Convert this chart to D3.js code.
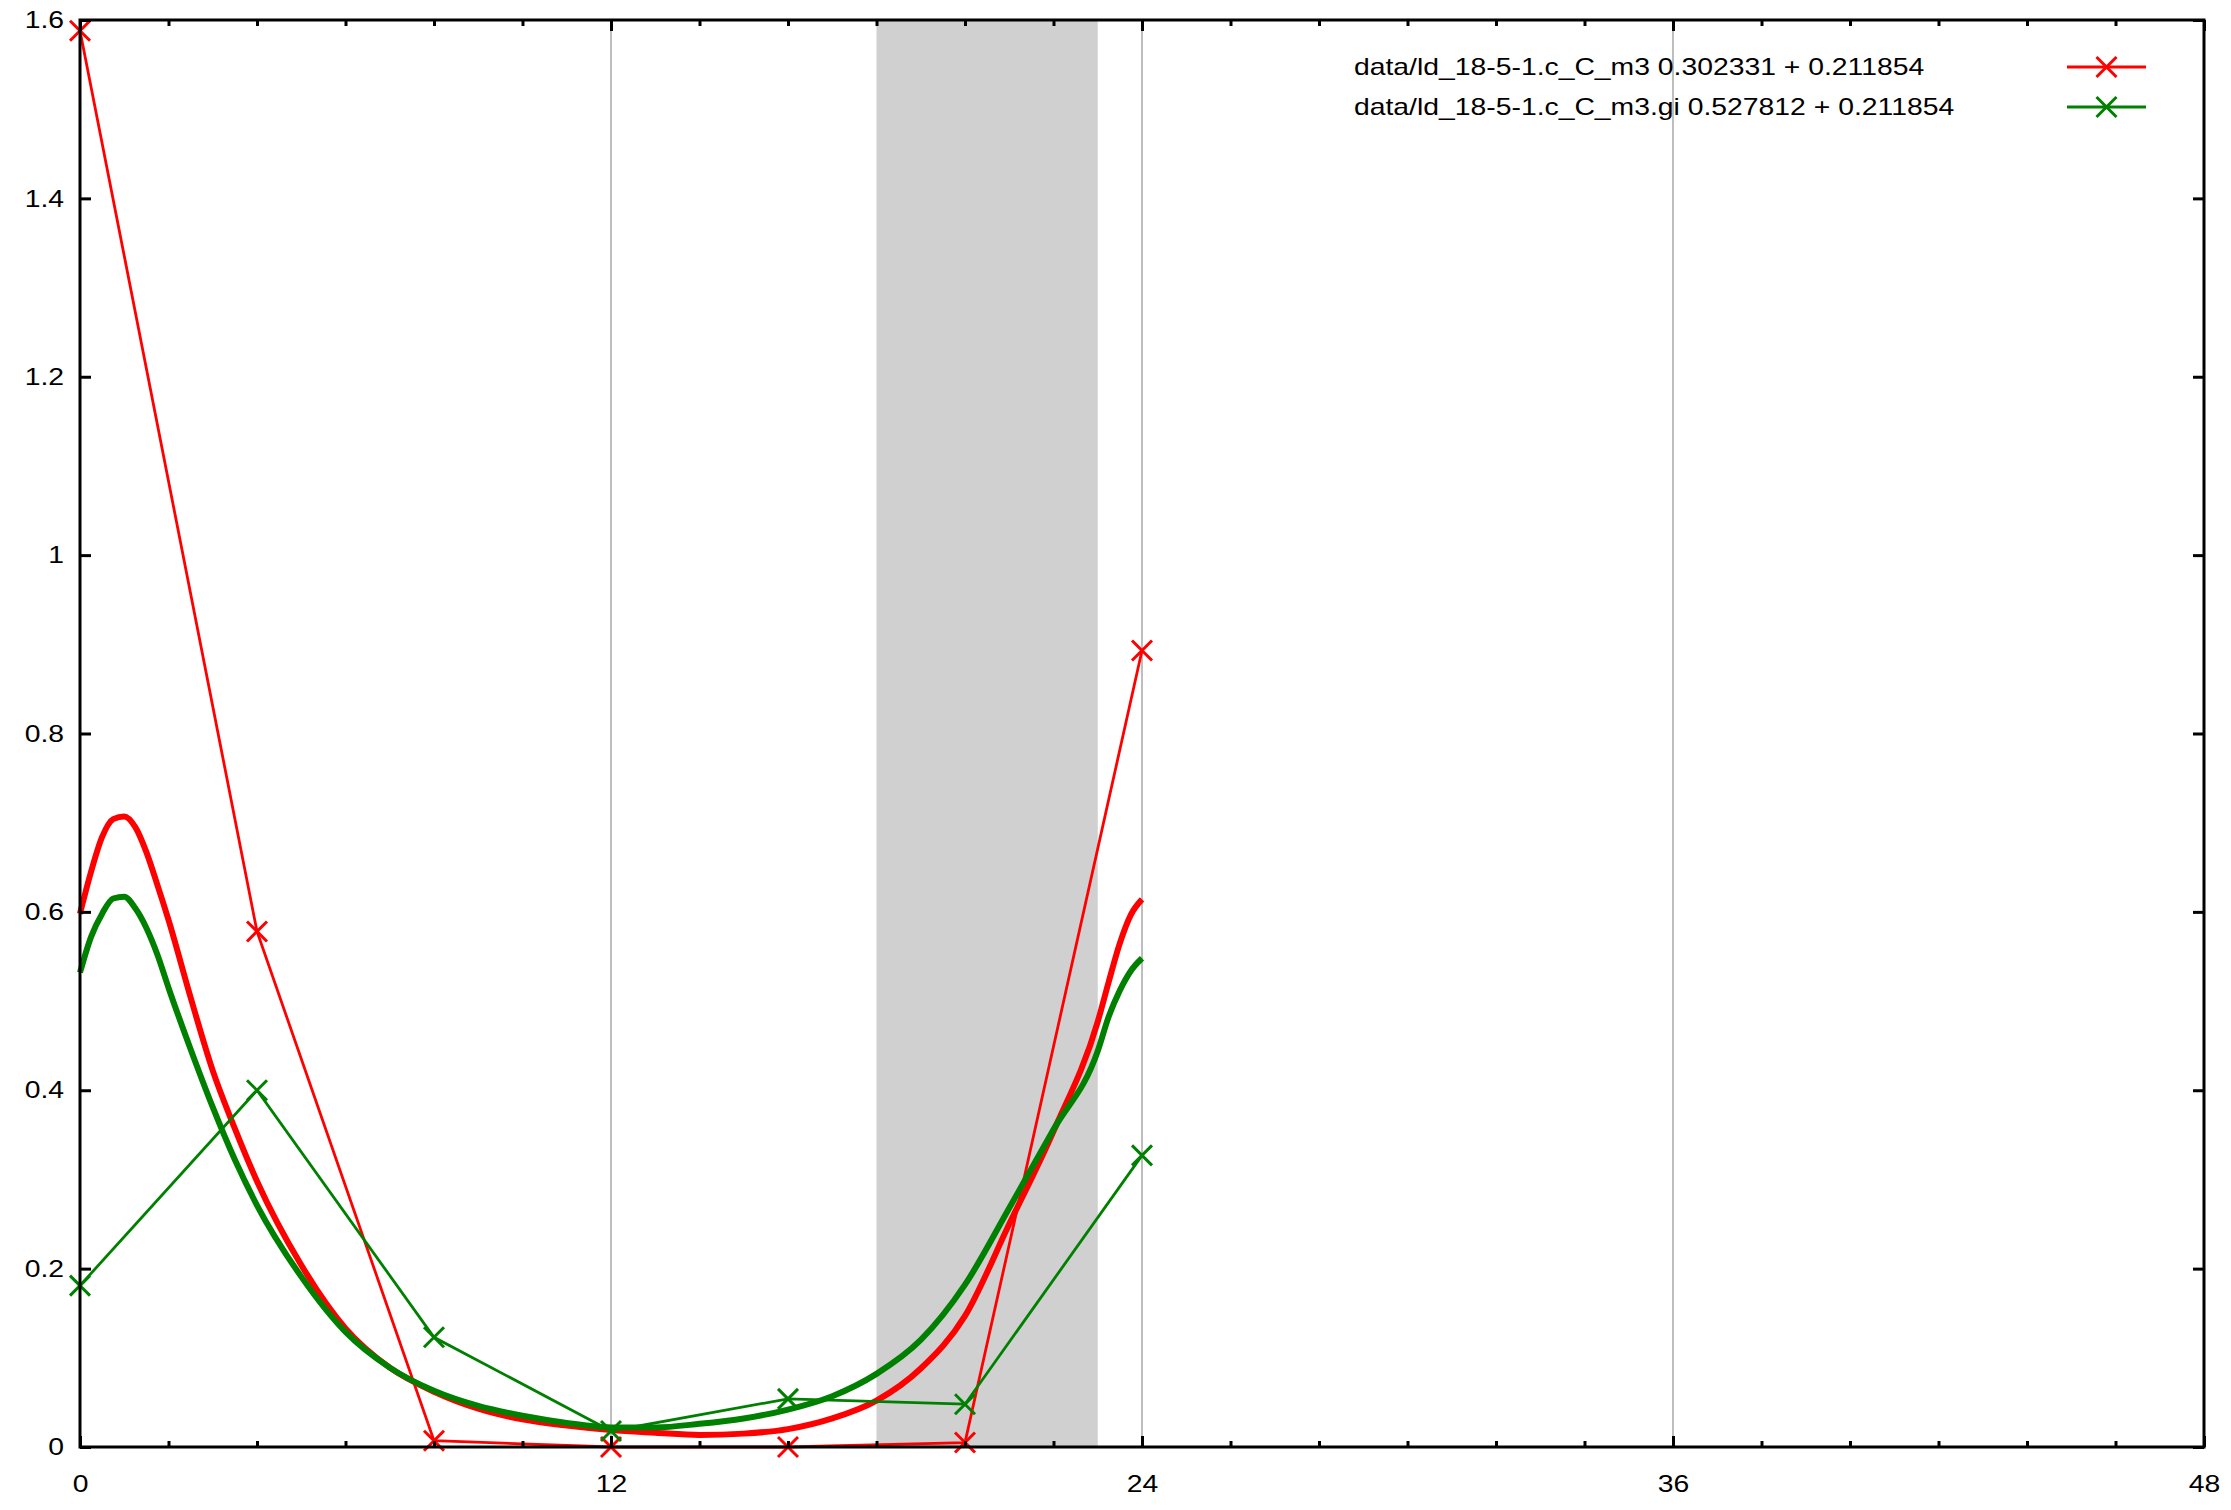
<!DOCTYPE html>
<html>
<head>
<meta charset="utf-8">
<script src="https://cdn.jsdelivr.net/npm/d3@7"></script>
<style>
  html, body { margin: 0; padding: 0; background: #fff; }
  svg text { font-family: "Liberation Sans", Arial, sans-serif; font-size: 24px; fill: #000; }
</style>
</head>
<body>
<svg id="chart" width="2231" height="1510"></svg>
<script>
// ---- data ----
const hours = [0, 4, 8, 12, 16, 20, 24];
const m3Values = [1.588, 0.578, 0.007, 0.0, 0.0, 0.005, 0.893];
const giValues = [0.181, 0.400, 0.123, 0.018, 0.054, 0.048, 0.327];

const fitHours = [0, 0.25, 0.5, 0.75, 1, 1.25, 1.5, 1.75, 2, 2.5, 3, 3.5, 4, 5, 6, 7, 8, 9, 10, 11, 12, 13, 14, 15, 16, 17, 18, 19, 20, 21, 22, 23, 23.25, 23.5, 23.75, 24];
const m3Fit = [0.598, 0.645, 0.684, 0.704, 0.707, 0.695, 0.667, 0.630, 0.591, 0.504, 0.422, 0.357, 0.298, 0.204, 0.133, 0.089, 0.062, 0.043, 0.031, 0.024, 0.019, 0.016, 0.0135, 0.015, 0.020, 0.032, 0.052, 0.088, 0.147, 0.250, 0.354, 0.477, 0.522, 0.565, 0.597, 0.614];
const giFit = [0.532, 0.572, 0.598, 0.615, 0.617, 0.604, 0.582, 0.552, 0.515, 0.446, 0.381, 0.322, 0.271, 0.191, 0.129, 0.089, 0.063, 0.046, 0.035, 0.027, 0.022, 0.022, 0.026, 0.032, 0.042, 0.057, 0.082, 0.120, 0.182, 0.268, 0.356, 0.444, 0.483, 0.512, 0.534, 0.548];

const xMajorTicks = [0, 12, 24, 36, 48];
const xMinorTicks = d3.range(0, 49, 2);
const yTicks = [0, 0.2, 0.4, 0.6, 0.8, 1, 1.2, 1.4, 1.6];
const yTickLabels = ["0", "0.2", "0.4", "0.6", "0.8", "1", "1.2", "1.4", "1.6"];
const gridHours = [12, 24, 36];
const shadeRange = [18, 23];
const legendLabels = ["data/ld_18-5-1.c_C_m3 0.302331 + 0.211854", "data/ld_18-5-1.c_C_m3.gi 0.527812 + 0.211854"];
const seriesColors = ["#ff0000", "#008000"];

// ---- layout ----
const svg = d3.select("#chart");
const L = 80, R = 2204, T = 20, B = 1447;
const x = d3.scaleLinear().domain([0, 48]).range([L, R]);
const y = d3.scaleLinear().domain([0, 1.6]).range([B, T]);

// shaded band
svg.append("rect")
  .attr("x", x(shadeRange[0])).attr("y", T)
  .attr("width", x(shadeRange[1]) - x(shadeRange[0])).attr("height", B - T)
  .attr("fill", "#d0d0d0");

// vertical grid
svg.append("g").selectAll("line").data(gridHours).join("line")
  .attr("x1", d => x(d)).attr("x2", d => x(d))
  .attr("y1", T).attr("y2", B)
  .attr("stroke", "#a8a8a8").attr("stroke-width", 1.5);

// series
const dataLine = d3.line().x(d => x(d[0])).y(d => y(d[1]));
const fitLine = d3.line().x(d => x(d[0])).y(d => y(d[1])).curve(d3.curveMonotoneX);
const marker = "M-10,-10L10,10M-10,10L10,-10";

const series = [
  { pts: hours.map((h, i) => [h, m3Values[i]]), fit: fitHours.map((h, i) => [h, m3Fit[i]]), color: seriesColors[0] },
  { pts: hours.map((h, i) => [h, giValues[i]]), fit: fitHours.map((h, i) => [h, giFit[i]]), color: seriesColors[1] }
];

series.forEach(s => {
  const g = svg.append("g");
  g.append("path").attr("d", dataLine(s.pts))
    .attr("fill", "none").attr("stroke", s.color).attr("stroke-width", 2.8).attr("stroke-linejoin", "miter");
  g.selectAll("path.m").data(s.pts).join("path").attr("class", "m")
    .attr("d", marker).attr("transform", d => `translate(${x(d[0])},${y(d[1])})`)
    .attr("stroke", s.color).attr("stroke-width", 3).attr("fill", "none");
  g.append("path").attr("d", fitLine(s.fit))
    .attr("fill", "none").attr("stroke", s.color).attr("stroke-width", 6).attr("stroke-linejoin", "round");
});

// axes (ticks inward)
function styleAxis(g) {
  g.select(".domain").remove();
  g.selectAll(".tick line").attr("stroke", "#000").attr("stroke-width", 3);
  g.selectAll("text").attr("font-family", null).attr("font-size", null);
}
svg.append("g").attr("transform", `translate(0,${B})`)
  .call(d3.axisBottom(x).tickValues(xMinorTicks.filter(t => !xMajorTicks.includes(t))).tickSize(-6).tickFormat(""))
  .call(styleAxis);
svg.append("g").attr("transform", `translate(0,${B})`)
  .call(d3.axisBottom(x).tickValues(xMajorTicks).tickSize(-11).tickPadding(28).tickFormat(d3.format("d")))
  .call(styleAxis);
svg.append("g").attr("transform", `translate(0,${T})`)
  .call(d3.axisTop(x).tickValues(xMinorTicks.filter(t => !xMajorTicks.includes(t))).tickSize(-6).tickFormat(""))
  .call(styleAxis);
svg.append("g").attr("transform", `translate(0,${T})`)
  .call(d3.axisTop(x).tickValues(xMajorTicks).tickSize(-11).tickFormat(""))
  .call(styleAxis);
svg.append("g").attr("transform", `translate(${L},0)`)
  .call(d3.axisLeft(y).tickValues(yTicks).tickSize(-11).tickPadding(16).tickFormat((d, i) => yTickLabels[i]))
  .call(styleAxis);
svg.append("g").attr("transform", `translate(${R},0)`)
  .call(d3.axisRight(y).tickValues(yTicks).tickSize(-11).tickFormat(""))
  .call(styleAxis);

// border
svg.append("rect").attr("x", L).attr("y", T).attr("width", R - L).attr("height", B - T)
  .attr("fill", "none").attr("stroke", "#000").attr("stroke-width", 3);

// legend
const legend = svg.append("g");
legendLabels.forEach((lab, i) => {
  const cy = 67 + i * 40;
  legend.append("text").attr("x", 1354).attr("y", cy).attr("dy", "0.35em").text(lab);
  legend.append("line").attr("x1", 2067).attr("x2", 2146).attr("y1", cy).attr("y2", cy)
    .attr("stroke", seriesColors[i]).attr("stroke-width", 3);
  legend.append("path").attr("d", marker).attr("transform", `translate(2106.5,${cy})`)
    .attr("stroke", seriesColors[i]).attr("stroke-width", 3).attr("fill", "none");
});

// widen glyphs to match reference font metrics
svg.selectAll("text").each(function () {
  const w = this.getComputedTextLength();
  if (w > 0) d3.select(this).attr("textLength", w * 1.18).attr("lengthAdjust", "spacingAndGlyphs");
});
</script>
</body>
</html>
